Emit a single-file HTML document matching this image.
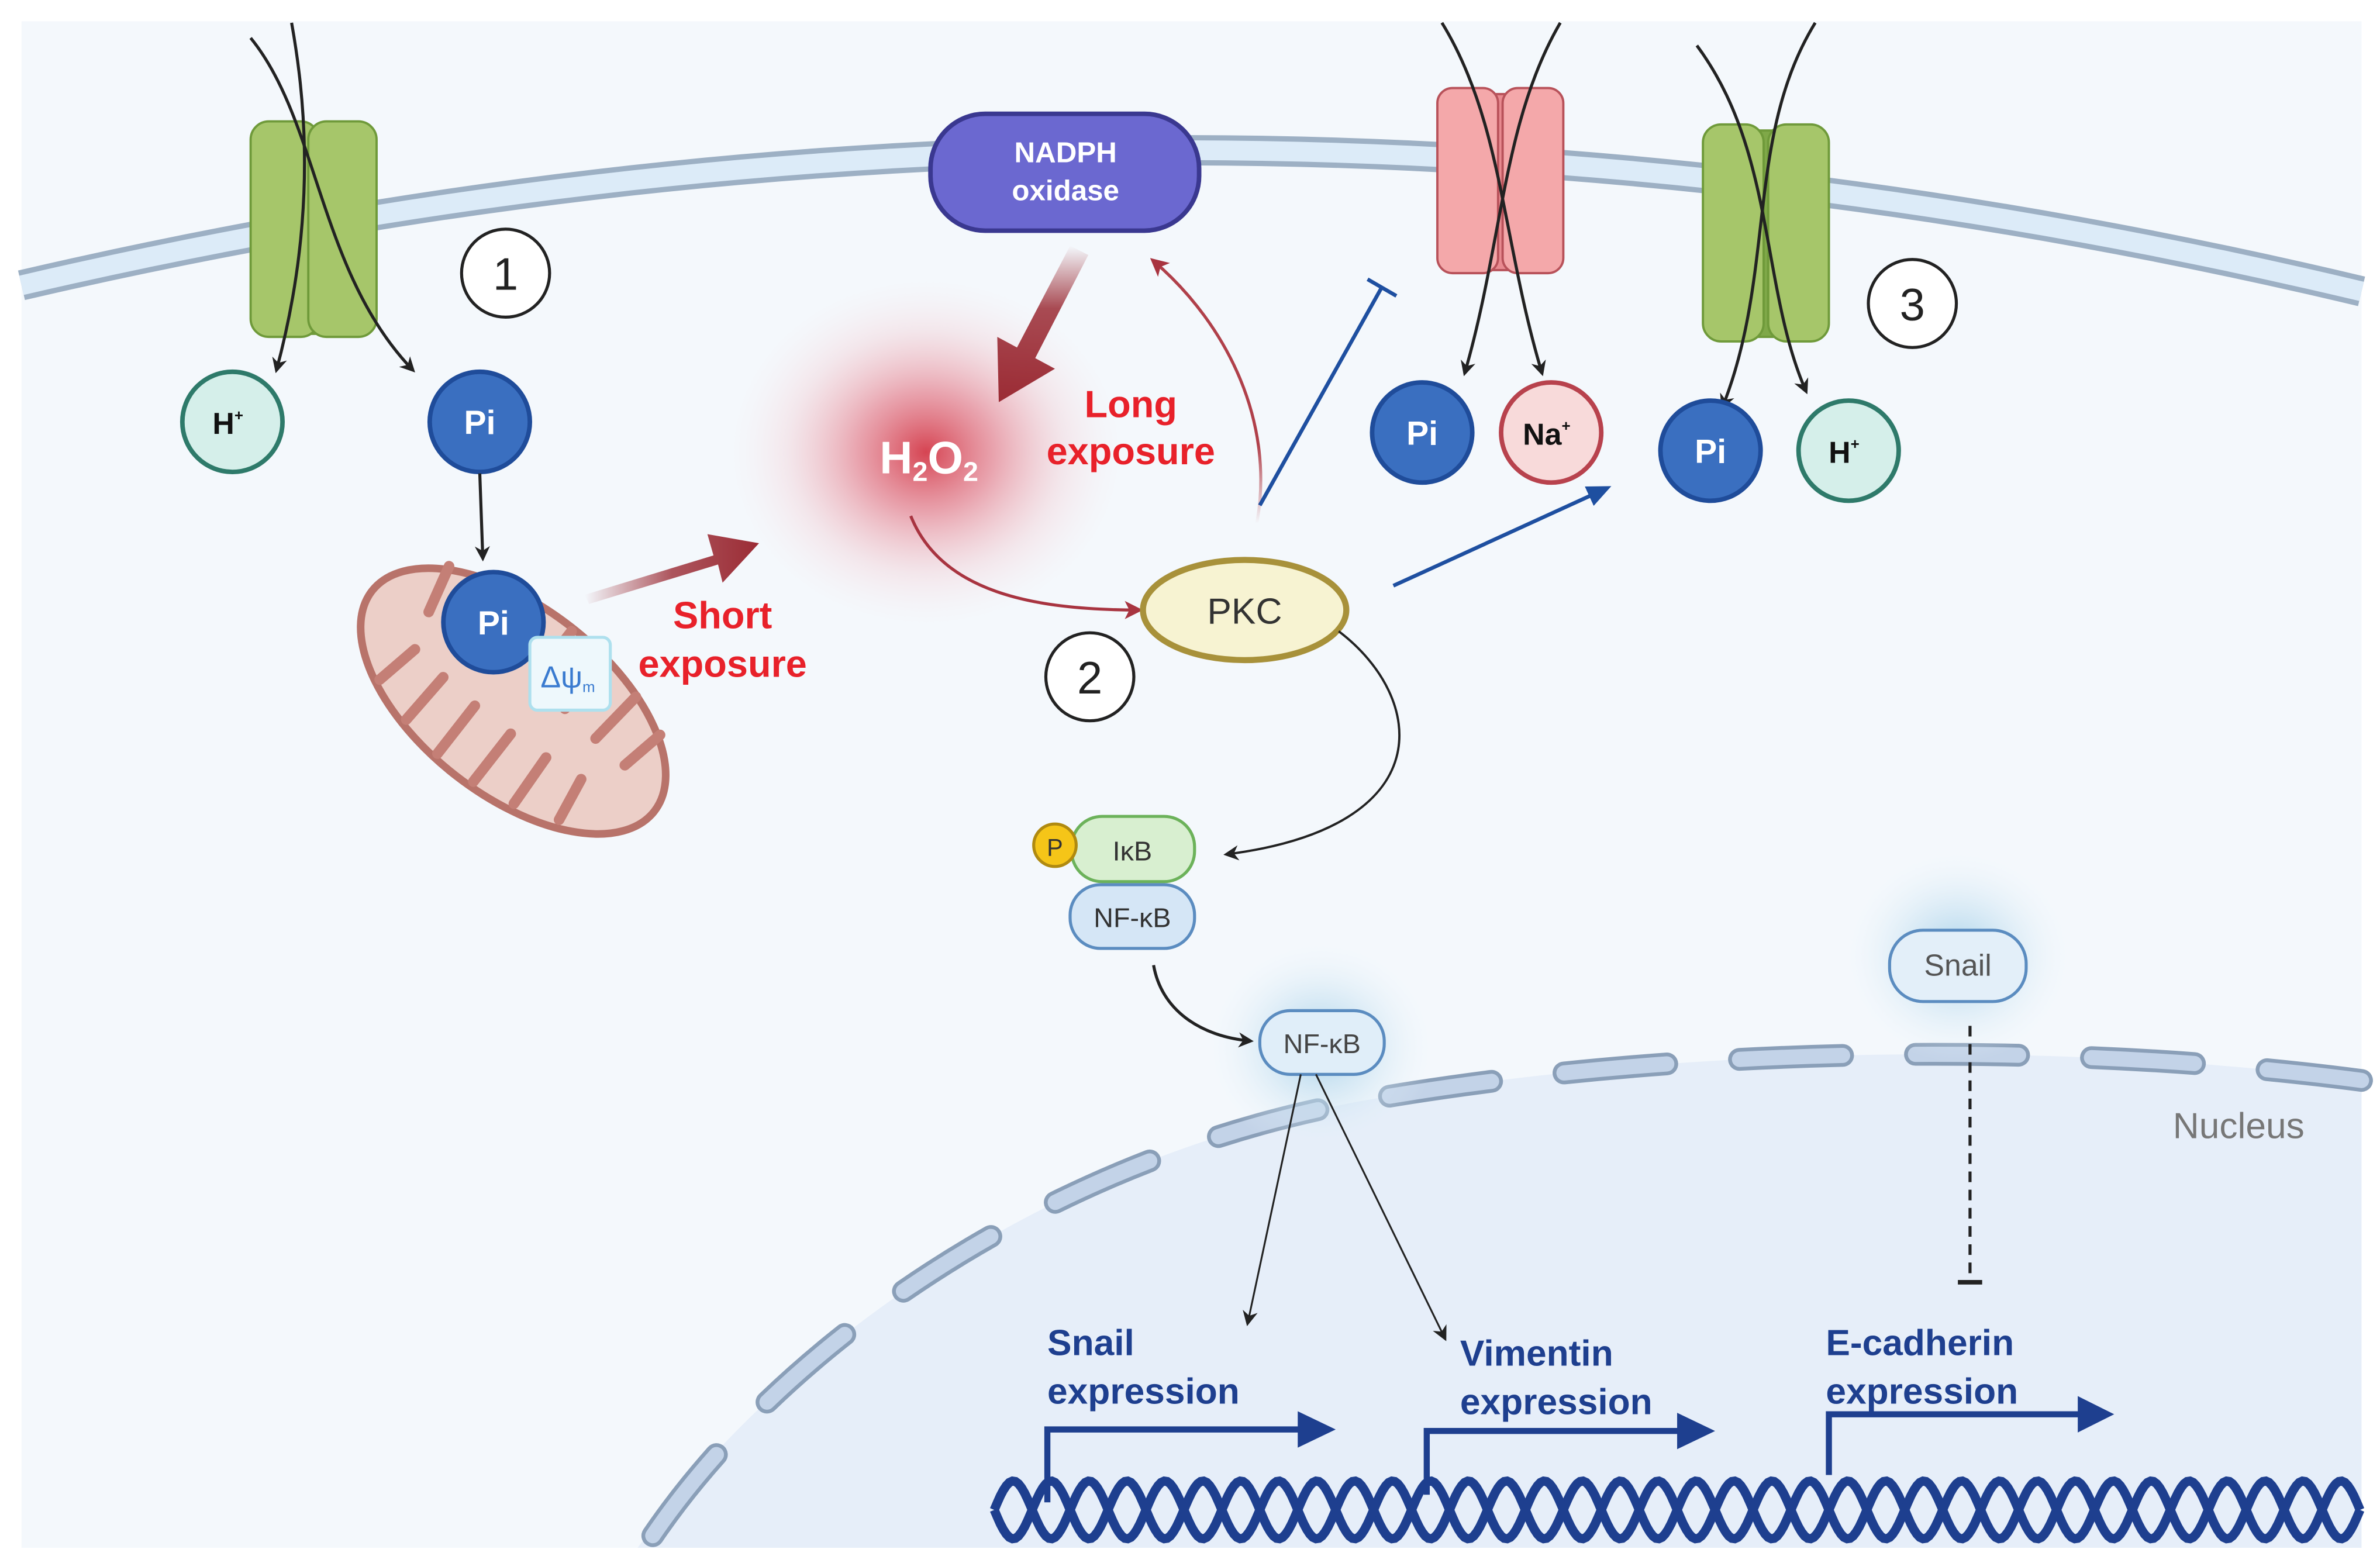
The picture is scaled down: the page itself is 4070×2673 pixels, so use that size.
<!DOCTYPE html>
<html><head><meta charset="utf-8"><style>
html,body{margin:0;padding:0;background:#fff;}
svg{display:block;}
text{font-family:"Liberation Sans",Arial,sans-serif;}
</style></head><body>
<svg id="s" width="4070" height="2673" viewBox="0 0 1568 1030" xmlns="http://www.w3.org/2000/svg">
<defs>
<radialGradient id="h2o2" cx="0.5" cy="0.5" r="0.5">
<stop offset="0" stop-color="#d2303f" stop-opacity="0.9"/>
<stop offset="0.35" stop-color="#e06070" stop-opacity="0.55"/>
<stop offset="0.7" stop-color="#f0a8b0" stop-opacity="0.22"/>
<stop offset="1" stop-color="#f8dde0" stop-opacity="0"/>
</radialGradient>
<radialGradient id="glow" cx="0.5" cy="0.5" r="0.5">
<stop offset="0" stop-color="#9ccbe6" stop-opacity="0.9"/>
<stop offset="0.5" stop-color="#c6e1f1" stop-opacity="0.5"/>
<stop offset="1" stop-color="#eef6fb" stop-opacity="0"/>
</radialGradient>
<linearGradient id="sa" x1="0" y1="0" x2="1" y2="0">
<stop offset="0" stop-color="#9b2c35" stop-opacity="0"/>
<stop offset="0.5" stop-color="#9b2c35" stop-opacity="0.8"/>
<stop offset="1" stop-color="#9b2c35"/>
</linearGradient>
<linearGradient id="la" x1="0" y1="0" x2="0" y2="1">
<stop offset="0" stop-color="#9b2c35" stop-opacity="0"/>
<stop offset="0.4" stop-color="#9b2c35" stop-opacity="0.85"/>
<stop offset="1" stop-color="#9b2c35"/>
</linearGradient>
<linearGradient id="ra" x1="0" y1="1" x2="0" y2="0">
<stop offset="0" stop-color="#b0404a" stop-opacity="0"/>
<stop offset="0.3" stop-color="#b0404a"/>
<stop offset="1" stop-color="#b0404a"/>
</linearGradient>
<marker id="ak" markerWidth="10" markerHeight="10" refX="8" refY="5" orient="auto" markerUnits="userSpaceOnUse"><path d="M0,0 L10,5 L0,10 L3,5 z" fill="#222"/></marker>
<marker id="ar" markerWidth="12" markerHeight="12" refX="9" refY="6" orient="auto" markerUnits="userSpaceOnUse"><path d="M0,0 L12,6 L0,12 L3,6 z" fill="#a83440"/></marker>
<marker id="ab" markerWidth="16" markerHeight="14" refX="12" refY="7" orient="auto" markerUnits="userSpaceOnUse"><path d="M0,0 L16,7 L0,14 z" fill="#1e4fa0"/></marker>
</defs>
<rect x="0" y="0" width="1568" height="1030" fill="#fff"/>
<rect x="14" y="14" width="1542" height="1006" fill="#f4f8fc"/>
<!-- nucleus -->
<path d="M420,1020 C520,880 700,760 900,725 C1100,690 1350,685 1556,712 L1556,1020 Z" fill="#e6eef9"/>
<path d="M430,1012 C520,880 700,760 900,725 C1100,690 1350,685 1556,712" fill="none" stroke="#8a9fb8" stroke-width="15" stroke-linecap="round" stroke-dasharray="68,48"/>
<path d="M430,1012 C520,880 700,760 900,725 C1100,690 1350,685 1556,712" fill="none" stroke="#c3d3e8" stroke-width="10" stroke-linecap="round" stroke-dasharray="68,48"/>
<!-- membrane -->
<path d="M14,188 Q785,8 1556,192" fill="none" stroke="#9db0c4" stroke-width="20"/>
<path d="M14,188 Q785,8 1556,192" fill="none" stroke="#dcebf8" stroke-width="13"/>
<!-- glows -->
<ellipse cx="610" cy="298" rx="130" ry="115" fill="url(#h2o2)"/>
<ellipse cx="870" cy="690" rx="75" ry="70" fill="url(#glow)"/>
<ellipse cx="1290" cy="630" rx="75" ry="70" fill="url(#glow)"/>
<!-- channel 1 -->
<g stroke="#6f9a3a" stroke-width="1.5">
<rect x="188" y="84" width="30" height="136" fill="#7fa848"/>
<rect x="165" y="80" width="45" height="142" rx="12" fill="#a6c66a"/>
<rect x="203" y="80" width="45" height="142" rx="12" fill="#a6c66a"/>
</g>
<path d="M192,15 C200,60 210,140 182,244" fill="none" stroke="#222" stroke-width="2" marker-end="url(#ak)"/>
<path d="M165,25 C210,80 210,180 272,244" fill="none" stroke="#222" stroke-width="2" marker-end="url(#ak)"/>
<!-- channel pink -->
<g stroke="#b8525a" stroke-width="1.5">
<rect x="968" y="62" width="40" height="116" fill="#e88a90"/>
<rect x="947" y="58" width="40" height="122" rx="10" fill="#f4a8aa"/>
<rect x="990" y="58" width="40" height="122" rx="10" fill="#f4a8aa"/>
</g>
<path d="M1028,15 C990,80 990,160 965,246" fill="none" stroke="#222" stroke-width="2" marker-end="url(#ak)"/>
<path d="M950,15 C990,80 990,160 1016,246" fill="none" stroke="#222" stroke-width="2" marker-end="url(#ak)"/>
<!-- channel green 2 -->
<g stroke="#6f9a3a" stroke-width="1.5">
<rect x="1145" y="86" width="36" height="136" fill="#7fa848"/>
<rect x="1122" y="82" width="40" height="143" rx="12" fill="#a6c66a"/>
<rect x="1165" y="82" width="40" height="143" rx="12" fill="#a6c66a"/>
</g>
<path d="M1196,15 C1150,90 1170,180 1135,268" fill="none" stroke="#222" stroke-width="2" marker-end="url(#ak)"/>
<path d="M1118,30 C1170,100 1160,190 1190,258" fill="none" stroke="#222" stroke-width="2" marker-end="url(#ak)"/>
<!-- ions -->
<g font-weight="bold" text-anchor="middle">
<circle cx="153" cy="278" r="33" fill="#d5efea" stroke="#2e7a6a" stroke-width="3"/>
<text x="150" y="286" font-size="20" fill="#111">H<tspan font-size="10" dy="-9">+</tspan></text>
<circle cx="316" cy="278" r="33" fill="#3a6fc0" stroke="#1f4c9a" stroke-width="3"/>
<text x="316" y="286" font-size="22" fill="#fff">Pi</text>
<circle cx="937" cy="285" r="33" fill="#3a6fc0" stroke="#1f4c9a" stroke-width="3"/>
<text x="937" y="293" font-size="22" fill="#fff">Pi</text>
<circle cx="1022" cy="285" r="33" fill="#f8dada" stroke="#b8424d" stroke-width="3"/>
<text x="1019" y="293" font-size="20" fill="#111">Na<tspan font-size="10" dy="-9">+</tspan></text>
<circle cx="1127" cy="297" r="33" fill="#3a6fc0" stroke="#1f4c9a" stroke-width="3"/>
<text x="1127" y="305" font-size="22" fill="#fff">Pi</text>
<circle cx="1218" cy="297" r="33" fill="#d5efea" stroke="#2e7a6a" stroke-width="3"/>
<text x="1215" y="305" font-size="20" fill="#111">H<tspan font-size="10" dy="-9">+</tspan></text>
</g>
<line x1="316" y1="312" x2="318" y2="368" stroke="#222" stroke-width="2" marker-end="url(#ak)"/>
<!-- mitochondrion -->
<g transform="rotate(38 338 462)">
<ellipse cx="338" cy="462" rx="118" ry="62" fill="#eccfc8" stroke="#b8736a" stroke-width="5"/>
<g stroke="#c47f76" stroke-width="7" stroke-linecap="round" fill="none">
<path d="M250,418 L258,450 M280,410 L282,448 M310,404 L312,445 M340,402 L340,442 M370,404 L368,445 M400,410 L396,448 M428,420 L422,450"/>
<path d="M260,505 L266,475 M290,515 L292,478 M320,520 L320,480 M350,520 L350,480 M380,515 L378,478 M410,505 L405,475"/>
</g>
</g>
<circle cx="325" cy="410" r="33" fill="#3a6fc0" stroke="#1f4c9a" stroke-width="3"/>
<text x="325" y="418" font-size="22" font-weight="bold" fill="#fff" text-anchor="middle">Pi</text>
<rect x="349" y="420" width="53" height="48" rx="5" fill="#eef8fc" stroke="#aee0ee" stroke-width="2"/>
<text x="374" y="453" font-size="20" fill="#3a7bd0" text-anchor="middle">Δψ<tspan font-size="10" dy="3">m</tspan></text>
<!-- short exposure -->
<path d="M385,392 L470,366 L466,352 L500,358 L476,384 L473,372 L388,398 Z" fill="url(#sa)"/>
<g font-weight="bold" font-size="25" fill="#e8212a" text-anchor="middle">
<text x="476" y="414">Short</text><text x="476" y="446">exposure</text>
<text x="745" y="275">Long</text><text x="745" y="306">exposure</text>
</g>
<!-- NADPH -->
<rect x="613" y="75" width="177" height="77" rx="36" fill="#6b68d0" stroke="#3a3890" stroke-width="3"/>
<text x="702" y="107" font-size="19" font-weight="bold" fill="#fff" text-anchor="middle">NADPH</text>
<text x="702" y="132" font-size="19" font-weight="bold" fill="#fff" text-anchor="middle">oxidase</text>
<path d="M705,162 L717,168 L682,236 L695,243 L658,265 L657,222 L670,229 Z" fill="url(#la)"/>
<text x="612" y="312" font-size="30" font-weight="bold" fill="#fff" text-anchor="middle">H<tspan font-size="18" dy="5">2</tspan><tspan dy="-5">O</tspan><tspan font-size="18" dy="5">2</tspan></text>
<!-- red curves -->
<path d="M828,345 C840,280 810,215 760,172" fill="none" stroke="url(#ra)" stroke-width="2" marker-end="url(#ar)"/>
<path d="M600,340 C620,390 680,402 750,402" fill="none" stroke="#a83440" stroke-width="2" marker-end="url(#ar)"/>
<!-- PKC -->
<ellipse cx="820" cy="402" rx="67" ry="33" fill="#f7f3d2" stroke="#a8913a" stroke-width="4"/>
<text x="820" y="411" font-size="24" fill="#333" text-anchor="middle">PKC</text>
<!-- blue -->
<line x1="830" y1="333" x2="910" y2="190" stroke="#1e4fa0" stroke-width="2.5"/>
<line x1="901" y1="184" x2="920" y2="195" stroke="#1e4fa0" stroke-width="2.5"/>
<line x1="918" y1="386" x2="1058" y2="322" stroke="#1e4fa0" stroke-width="2.5" marker-end="url(#ab)"/>
<!-- numbers -->
<g fill="#fff" stroke="#222" stroke-width="2">
<circle cx="333" cy="180" r="29"/><circle cx="718" cy="446" r="29"/><circle cx="1260" cy="200" r="29"/>
</g>
<g font-size="30" fill="#222" text-anchor="middle">
<text x="333" y="191">1</text><text x="718" y="457">2</text><text x="1260" y="211">3</text>
</g>
<!-- PKC to IkB -->
<path d="M882,416 C940,460 950,545 808,563" fill="none" stroke="#222" stroke-width="1.5" marker-end="url(#ak)"/>
<rect x="706" y="538" width="81" height="43" rx="20" fill="#d8efd0" stroke="#6cb25a" stroke-width="2"/>
<text x="746" y="567" font-size="18" fill="#333" text-anchor="middle">IκB</text>
<circle cx="695" cy="557" r="14" fill="#f5c518" stroke="#b08a10" stroke-width="2"/>
<text x="695" y="564" font-size="16" fill="#333" text-anchor="middle">P</text>
<rect x="705" y="583" width="82" height="42" rx="20" fill="#d5e6f6" stroke="#5b8cc0" stroke-width="2"/>
<text x="746" y="611" font-size="18" fill="#333" text-anchor="middle">NF-κB</text>
<path d="M760,636 C765,665 790,683 824,686" fill="none" stroke="#222" stroke-width="2" marker-end="url(#ak)"/>
<rect x="830" y="666" width="82" height="42" rx="20" fill="#e0eef9" stroke="#5b8cc0" stroke-width="2"/>
<text x="871" y="694" font-size="18" fill="#444" text-anchor="middle">NF-κB</text>
<rect x="1245" y="613" width="90" height="47" rx="22" fill="#e3eff9" stroke="#5b8cc0" stroke-width="2"/>
<text x="1290" y="643" font-size="20" fill="#555" text-anchor="middle">Snail</text>
<line x1="1298" y1="676" x2="1298" y2="843" stroke="#222" stroke-width="2" stroke-dasharray="7,5"/>
<line x1="1290" y1="845" x2="1306" y2="845" stroke="#222" stroke-width="3"/>
<text x="1475" y="750" font-size="24" fill="#777" text-anchor="middle">Nucleus</text>
<line x1="857" y1="708" x2="822" y2="872" stroke="#222" stroke-width="1.2" marker-end="url(#ak)"/>
<line x1="867" y1="708" x2="952" y2="882" stroke="#222" stroke-width="1.2" marker-end="url(#ak)"/>
<!-- gene labels -->
<g font-size="24" font-weight="bold" fill="#1e3f8f">
<text x="690" y="893">Snail</text><text x="690" y="925">expression</text>
<text x="962" y="900">Vimentin</text><text x="962" y="932">expression</text>
<text x="1203" y="893">E-cadherin</text><text x="1203" y="925">expression</text>
</g>
<g fill="none" stroke="#1e3f8f" stroke-width="4">
<path d="M690,990 L690,942 L858,942"/>
<path d="M940,985 L940,943 L1108,943"/>
<path d="M1205,972 L1205,932 L1372,932"/>
</g>
<g fill="#1e3f8f">
<path d="M855,930 L880,942 L855,954 Z"/>
<path d="M1105,931 L1130,943 L1105,955 Z"/>
<path d="M1369,920 L1393,932 L1369,944 Z"/>
</g>
<path id="d1" fill="none" stroke="#1e3f8f" stroke-width="6"/>
<path id="d2" fill="none" stroke="#1e3f8f" stroke-width="6"/>
</svg>
<script>
(function(){var a="",b="",x0=655,x1=1556,P=50,A=19,c=995;
for(var x=x0;x<=x1;x+=2){var t=(x-x0)/P*2*Math.PI;a+=(x==x0?"M":"L")+x+","+(c+A*Math.sin(t)).toFixed(1);b+=(x==x0?"M":"L")+x+","+(c-A*Math.sin(t)).toFixed(1);}
document.getElementById("d1").setAttribute("d",a);document.getElementById("d2").setAttribute("d",b);})();
</script>
</body></html>
